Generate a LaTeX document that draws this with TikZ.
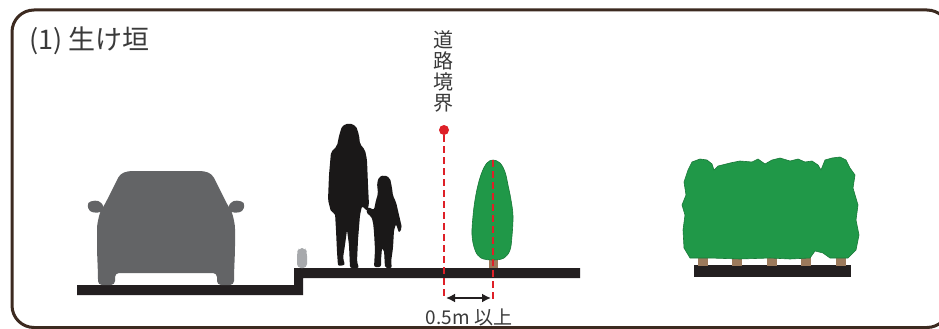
\documentclass[tikz,border=0pt]{standalone}
\usepackage{fontspec}
\newfontfamily\jp{Noto Sans CJK JP}
\usetikzlibrary{arrows.meta}
\definecolor{framec}{RGB}{60,42,32}
\definecolor{ground}{RGB}{35,31,32}
\definecolor{carc}{RGB}{99,100,102}
\definecolor{bollardc}{RGB}{167,169,172}
\definecolor{person}{RGB}{26,24,24}
\definecolor{leaf}{RGB}{32,152,72}
\definecolor{leafedge}{RGB}{24,120,56}
\definecolor{bark}{RGB}{156,122,92}
\definecolor{boundary}{RGB}{222,32,40}
\definecolor{label}{RGB}{58,58,58}
\tikzset{
  frameline/.style={draw=framec,line width=3pt,rounded corners=22pt},
  groundfill/.style={fill=ground},
  silhouette/.style={fill=person,rounded corners=2pt},
  foliage/.style={fill=leaf,draw=leafedge,line width=0.6pt,line join=round},
  trunk/.style={fill=bark},
  boundaryline/.style={draw=boundary,line width=2.4pt,dash pattern=on 7pt off 4pt},
  txt/.style={font=\jp,text=label,inner sep=0pt},
}
\begin{document}
\begin{tikzpicture}[x=1pt,y=-1pt]
\useasboundingbox (0,0) rectangle (939,329);
\fill[white] (0,0) rectangle (939,329);

% panel frame
\draw[frameline] (12,10) rectangle (949,327.5);

% title
\node[txt,anchor=west,font=\jp\fontsize{27}{30}\selectfont] (title) at (29,41) {(1) 生け垣};

% road and raised sidewalk
\fill[groundfill] (77,285) -- (294,285) -- (294,268) -- (580,268) -- (580,278)
  -- (303,278) -- (303,295) -- (77,295) -- cycle;

% bollard on the curb
\fill[bollardc,rounded corners=4pt] (297,268) -- (297,252) -- (299,248) -- (305,248) -- (307,252) -- (307,268) -- cycle;

% car seen from the front
\fill[carc,rounded corners=4pt]
  (128,171) -- (204,171) -- (212,174) -- (220,190) -- (227,204) -- (232,212)
  -- (235,225) -- (235,250) -- (234,275) -- (234,285) -- (217,285) -- (217,273)
  -- (115,273) -- (115,285) -- (98,285) -- (98,275) -- (97,250) -- (97,225)
  -- (100,212) -- (105,204) -- (112,190) -- (120,174) -- cycle;
\fill[carc,rounded corners=4pt] (87,202) -- (99,200) -- (105,208) -- (101,213) -- (89,212) -- cycle;
\fill[carc,rounded corners=4pt] (245,202) -- (233,200) -- (227,208) -- (231,213) -- (243,212) -- cycle;

% adult walking
\fill[silhouette]
  (349,123) -- (356,126) -- (359,135) -- (360,144) -- (365,150) -- (367,160)
  -- (368,185) -- (369,205) -- (367,211) -- (362,206) -- (360,215) -- (358,240)
  -- (357,262) -- (359,268) -- (350,268) -- (349,245) -- (347,230) -- (345,245)
  -- (343,258) -- (345,265) -- (338,266) -- (337,252) -- (336,230) -- (335,213)
  -- (331,212) -- (328,200) -- (329,175) -- (331,152) -- (337,146) -- (339,136)
  -- (342,126) -- cycle;

% child holding hands
\fill[silhouette]
  (384,175) -- (390,178) -- (392,188) -- (393,196) -- (396,202) -- (399,215)
  -- (402,228) -- (399,233) -- (396,224) -- (394,230) -- (393,248) -- (391,262)
  -- (392,268) -- (385,268) -- (384,250) -- (382,248) -- (381,260) -- (381,267)
  -- (374,267) -- (375,250) -- (374,232) -- (373,222) -- (371,216) -- (366,213)
  -- (368,207) -- (374,210) -- (376,200) -- (378,194) -- (377,183) -- (379,177) -- cycle;

% road boundary label and marker
\node[txt,align=center,font=\jp\fontsize{20}{21}\selectfont] (blabel) at (443,71)
  {道\\路\\境\\界};
\node[circle,fill=boundary,minimum size=10pt,inner sep=0pt] (bdot) at (444,130) {};
\coordinate (bfoot) at (444,299);
\draw[boundaryline] (bdot) -- (bfoot);

% single cypress-like tree at the boundary setback
\fill[trunk] (489,256) rectangle (498,268);
\filldraw[foliage] plot[smooth cycle,tension=0.6] coordinates {
  (493,160) (500,163) (505,172) (508,185) (511,200) (513,216) (512,236)
  (510,250) (504,258) (493,260) (481,258) (475,250) (472,235) (473,216)
  (475,200) (478,185) (482,172) (487,163)};
\coordinate (ttop) at (493,160);
\coordinate (tfoot) at (493,299);
\draw[boundaryline] (ttop) -- (tfoot);

% setback dimension
\coordinate (dimL) at (446,298);
\coordinate (dimR) at (491,298);
\draw[ground,line width=2pt,{Latex[length=9pt,width=9pt]}-{Latex[length=9pt,width=9pt]}] (dimL) -- (dimR);
\node[txt,font=\jp\fontsize{19}{21}\selectfont] (dimtext) at (469,317) {0.5m 以上};

% hedge
\fill[ground] (694,265) rectangle (851,277);
\foreach \tx in {703,737,772,806,841}
  \fill[trunk] (\tx-5,250) rectangle (\tx+5,266);
\filldraw[foliage]
  (690,258) -- (684,248) -- (683,230) -- (685,215) -- (682,205) -- (686,195)
  -- (684,182) -- (688,170) -- (692,162) -- (700,159) -- (707,160) -- (712,164)
  -- (714,170) -- (718,166) -- (730,163) -- (740,161) -- (752,162) -- (758,159)
  -- (765,164) -- (772,160) -- (780,158) -- (790,161) -- (798,159) -- (805,162)
  -- (812,161) -- (818,165) -- (821,170) -- (825,160) -- (832,158) -- (840,157)
  -- (846,160) -- (850,168) -- (855,175) -- (853,188) -- (858,205) -- (856,220)
  -- (859,235) -- (856,250) -- (848,258) -- (830,258) -- (823,253) -- (815,251)
  -- (810,258) -- (790,259) -- (770,258) -- (740,259) -- (710,258) -- cycle;
\end{tikzpicture}
\end{document}
